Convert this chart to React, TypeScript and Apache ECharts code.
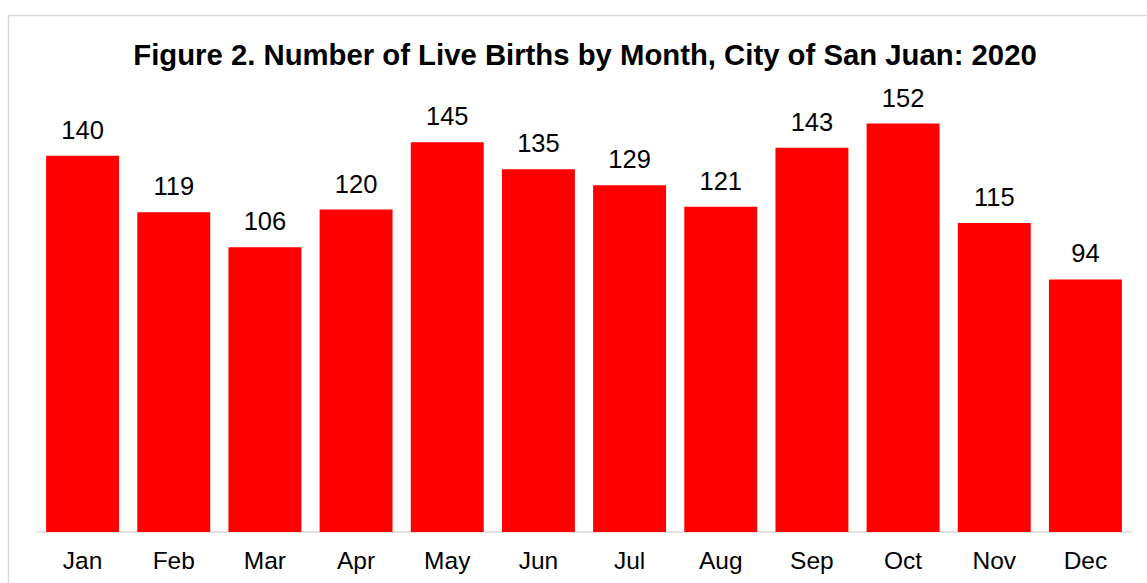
import React, { useEffect, useRef } from "react";
import * as echarts from "echarts";

const titleText = "Figure 2. Number of Live Births by Month, City of San Juan: 2020";
const months = ["Jan", "Feb", "Mar", "Apr", "May", "Jun", "Jul", "Aug", "Sep", "Oct", "Nov", "Dec"];
const births = [140, 119, 106, 120, 145, 135, 129, 121, 143, 152, 115, 94];

const FONT = "'Liberation Sans', Arial, sans-serif";

export default function App() {
  const ref = useRef<HTMLDivElement>(null);
  useEffect(() => {
    if (!ref.current) return;
    const chart = echarts.init(ref.current, undefined, { renderer: "svg" });
    chart.setOption({
      animation: false,
      backgroundColor: "#ffffff",
      graphic: [
        {
          type: "rect",
          shape: { x: 8.5, y: 15.5, width: 1300, height: 800 },
          style: { fill: "none", stroke: "#d9d9d9", lineWidth: 1.5 },
          silent: true,
          z: -10,
        },
        {
          type: "text",
          x: 585,
          y: 40,
          silent: true,
          style: {
            text: titleText,
            align: "center",
            verticalAlign: "top",
            fontFamily: FONT,
            fontSize: 29.3,
            fontWeight: "bold",
            fill: "#000000",
          },
        },
      ],
      grid: { left: 37, right: 16, top: 102, bottom: 51, containLabel: false },
      xAxis: {
        type: "category",
        data: months,
        axisLine: { lineStyle: { color: "#d9d9d9", width: 1.5 } },
        axisTick: { show: false },
        axisLabel: { fontFamily: FONT, fontSize: 24.5, color: "#000000", margin: 16 },
      },
      yAxis: {
        type: "value",
        min: 0,
        max: 160,
        show: false,
        splitLine: { show: false },
      },
      series: [
        {
          type: "bar",
          data: births,
          barWidth: "80%",
          itemStyle: { color: "#ff0000" },
          label: {
            show: true,
            position: "top",
            distance: 13,
            fontFamily: FONT,
            fontSize: 25.5,
            color: "#000000",
          },
        },
      ],
    });
    return () => chart.dispose();
  }, []);
  return (
    <div
      ref={ref}
      style={{ position: "absolute", left: 0, top: 0, width: 1147, height: 583 }}
    />
  );
}
